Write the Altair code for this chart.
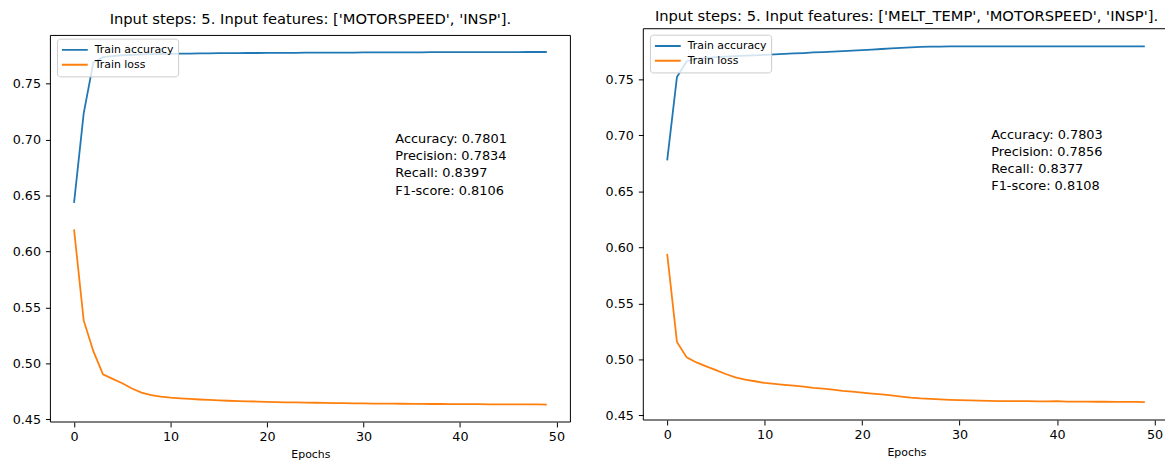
import altair as alt
import pandas as pd

FONT = "DejaVu Sans"
epochs = list(range(50))
series_names = ["Train accuracy", "Train loss"]
series_colors = ["#1f77b4", "#ff7f0e"]

left_title = "Input steps: 5. Input features: ['MOTORSPEED', 'INSP']."
right_title = "Input steps: 5. Input features: ['MELT_TEMP', 'MOTORSPEED', 'INSP']."

left_acc = [0.6435, 0.7235, 0.7690, 0.7738, 0.7748, 0.7755, 0.7759, 0.7762, 0.7764, 0.7766,
            0.7768, 0.7769, 0.7770, 0.7771, 0.7772, 0.7773, 0.7773, 0.7774, 0.7775, 0.7775,
            0.7776, 0.7776, 0.7777, 0.7777, 0.7778, 0.7778, 0.7778, 0.7779, 0.7779, 0.7779,
            0.7780, 0.7780, 0.7780, 0.7781, 0.7781, 0.7781, 0.7781, 0.7782, 0.7782, 0.7782,
            0.7782, 0.7782, 0.7783, 0.7783, 0.7783, 0.7783, 0.7783, 0.7784, 0.7784, 0.7784]
left_loss = [0.6199, 0.5385, 0.5110, 0.4903, 0.4862, 0.4823, 0.4776, 0.4740, 0.4718, 0.4703,
             0.4694, 0.4688, 0.4683, 0.4678, 0.4674, 0.4670, 0.4667, 0.4664, 0.4662, 0.4660,
             0.4657, 0.4655, 0.4653, 0.4652, 0.4650, 0.4649, 0.4648, 0.4646, 0.4645, 0.4644,
             0.4643, 0.4642, 0.4641, 0.4641, 0.4640, 0.4639, 0.4639, 0.4638, 0.4638, 0.4637,
             0.4637, 0.4636, 0.4636, 0.4635, 0.4635, 0.4635, 0.4634, 0.4634, 0.4634, 0.4633]
right_acc = [0.6776, 0.7520, 0.7662, 0.7682, 0.7692, 0.7698, 0.7703, 0.7707, 0.7711, 0.7715,
             0.7719, 0.7723, 0.7727, 0.7731, 0.7735, 0.7740, 0.7744, 0.7748, 0.7752, 0.7756,
             0.7761, 0.7766, 0.7771, 0.7776, 0.7781, 0.7786, 0.7790, 0.7792, 0.7793, 0.7794,
             0.7795, 0.7795, 0.7795, 0.7795, 0.7795, 0.7795, 0.7795, 0.7795, 0.7795, 0.7795,
             0.7795, 0.7795, 0.7795, 0.7795, 0.7795, 0.7795, 0.7795, 0.7795, 0.7795, 0.7795]
right_loss = [0.5942, 0.5156, 0.5018, 0.4973, 0.4938, 0.4905, 0.4870, 0.4840, 0.4820, 0.4805,
              0.4790, 0.4782, 0.4773, 0.4765, 0.4757, 0.4745, 0.4740, 0.4730, 0.4720, 0.4712,
              0.4703, 0.4695, 0.4687, 0.4678, 0.4668, 0.4659, 0.4652, 0.4647, 0.4643, 0.4639,
              0.4636, 0.4634, 0.4632, 0.4630, 0.4628, 0.4627, 0.4628, 0.4627, 0.4626, 0.4626,
              0.4627, 0.4624, 0.4623, 0.4623, 0.4622, 0.4622, 0.4621, 0.4620, 0.4620, 0.4619]

metric_names = ["Accuracy", "Precision", "Recall", "F1-score"]
left_metrics = ["0.7801", "0.7834", "0.8397", "0.8106"]
right_metrics = ["0.7803", "0.7856", "0.8377", "0.8108"]

x_ticks = [0, 10, 20, 30, 40, 50]
y_ticks = [0.45, 0.50, 0.55, 0.60, 0.65, 0.70, 0.75]


def long_df(acc, loss):
    return pd.DataFrame({
        "epoch": epochs + epochs,
        "value": acc + loss,
        "series": [series_names[0]] * len(acc) + [series_names[1]] * len(loss),
    })


def panel(acc, loss, metrics, title, title_offset, width, height, xdom, ydom, frame,
          axis_extent, text_x, text_y, leg_x, leg_y):
    df = long_df(acc, loss)
    xs = alt.Scale(domain=xdom, nice=False, zero=False)
    ys = alt.Scale(domain=ydom, nice=False, zero=False)
    x_axis = alt.Axis(values=x_ticks, title="Epochs", grid=False, domain=False,
                      tickColor="black", tickSize=5, labelPadding=4, labelFlush=False,
                      labelFontSize=12.8, labelColor="black", labelFont=FONT,
                      titleFontSize=11, titleFontWeight="normal", titleColor="black",
                      titleFont=FONT, titlePadding=4.9)
    y_axis = alt.Axis(values=y_ticks, format=".2f", title=None, grid=False, domain=False,
                      tickColor="black", tickSize=5, labelPadding=5, labelFlush=False,
                      labelFontSize=12.8, labelColor="black", labelFont=FONT,
                      minExtent=axis_extent, maxExtent=axis_extent)
    lines = alt.Chart(df).mark_line(strokeWidth=1.8).encode(
        x=alt.X("epoch:Q", scale=xs, axis=x_axis),
        y=alt.Y("value:Q", scale=ys, axis=y_axis),
        color=alt.Color("series:N",
                        scale=alt.Scale(domain=series_names, range=series_colors),
                        legend=alt.Legend(orient="none", legendX=leg_x, legendY=leg_y,
                                          title=None, symbolType="stroke", symbolSize=676,
                                          symbolStrokeWidth=2, clipHeight=14.6,
                                          labelFontSize=11, labelFont=FONT,
                                          labelColor="black", padding=4, labelOffset=6,
                                          rowPadding=0,
                                          fillColor="rgba(255,255,255,0.8)",
                                          strokeColor="#cccccc", cornerRadius=3)),
    )
    fr = pd.DataFrame(frame)
    frame_rules = alt.Chart(fr).mark_rule(color="black", strokeWidth=1).encode(
        x=alt.X("x0:Q", scale=xs), x2="x1:Q",
        y=alt.Y("y0:Q", scale=ys), y2="y1:Q",
    )
    txt = "\n".join(f"{n}: {v}" for n, v in zip(metric_names, metrics))
    text = alt.Chart(pd.DataFrame({"t": [txt]})).mark_text(
        align="left", baseline="alphabetic", fontSize=13, font=FONT, color="black",
        lineBreak="\n", lineHeight=17.2,
    ).encode(x=alt.value(text_x), y=alt.value(text_y), text="t:N")
    return alt.layer(frame_rules, lines, text).properties(
        width=width, height=height,
        title=alt.TitleParams(title, fontSize=14.8, font=FONT, fontWeight="normal",
                              color="black", anchor="middle", frame="group",
                              offset=title_offset),
    )


left = panel(left_acc, left_loss, left_metrics, left_title, 2, 523.6, 396,
             [-2.45, 51.45], [0.4477, 0.7992],
             {"x0": [-2.45, -2.45, 51.45, -2.45], "x1": [51.45, -2.45, 51.45, 51.45],
              "y0": [0.7932, 0.4477, 0.4477, 0.4477], "y1": [0.7932, 0.7932, 0.7932, 0.4477]},
             42.7, 347.3, 115.4, 6.6, 10)
right = panel(right_acc, right_loss, right_metrics, right_title, 4, 530, 394,
              [-2.45, 51.55], [0.4459, 0.7952],
              {"x0": [-2.45, -2.45, -2.45], "x1": [51.55, -2.45, 51.55],
               "y0": [0.7952, 0.4459, 0.4459], "y1": [0.7952, 0.7952, 0.4459]},
              41.7, 350.3, 111, 6.7, 6)

chart = alt.hconcat(left, right, spacing=30).resolve_scale(
    x="independent", y="independent", color="independent"
).resolve_legend(color="independent").properties(
    autosize=alt.AutoSizeParams(type="none"),
    padding={"left": 42.7, "top": 19.3, "right": 1122.3, "bottom": 432.7},
).configure(font=FONT).configure_view(strokeOpacity=0, strokeWidth=0)

chart.save("out.html", embed_options={"renderer": "svg", "actions": False})
